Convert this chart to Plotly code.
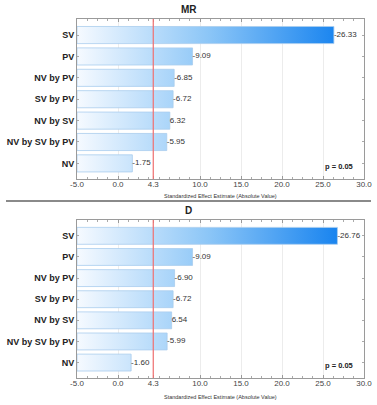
import plotly.graph_objects as go

terms = ["SV", "PV", "NV by PV", "SV by PV", "NV by SV", "NV by SV by PV", "NV"]
effects_mr = [-26.33, -9.09, -6.85, -6.72, 6.32, -5.95, -1.75]
effects_d = [-26.76, -9.09, -6.90, -6.72, 6.54, -5.99, -1.60]
panel_titles = ["MR", "D"]
tick_vals = [-5.0, 0.0, 4.3, 10.0, 15.0, 20.0, 25.0, 30.0]
tick_text = ["-5.0", "0.0", "4.3", "10.0", "15.0", "20.0", "25.0", "30.0"]
critical_t = 4.3
p_label = "p = 0.05"
axis_title = "Standardized Effect Estimate (Absolute Value)"

W, H = 377, 405
X_MIN, X_MAX = -5.0, 30.0
BAR_HALF = 0.4
FONT = "Liberation Sans, Arial, sans-serif"


def py(px):
    return 1 - px / H


panels = [
    dict(effects=effects_mr, top=19, bottom=179, title_y=9, xtitle_y=196),
    dict(effects=effects_d, top=220, bottom=378, title_y=210, xtitle_y=397),
]
x_dom = [77 / W, 364 / W]

fig = go.Figure()
annotations = []
shapes = []

for k, (p, title) in enumerate(zip(panels, panel_titles)):
    sfx = "" if k == 0 else str(k + 1)
    xa, ya = "x" + sfx, "y" + sfx
    xs, ys = [], []
    for i, v in enumerate(p["effects"]):
        end = abs(v)
        xs += [X_MIN, X_MIN, end, end, X_MIN, None]
        ys += [i - BAR_HALF, i + BAR_HALF, i + BAR_HALF, i - BAR_HALF, i - BAR_HALF, None]
    fig.add_trace(go.Scatter(
        x=xs, y=ys, mode="lines", fill="toself",
        line=dict(color="#a9cdee", width=0.8),
        fillgradient=dict(type="horizontal",
                          colorscale=[[0, "#f6faff"], [0.5, "#8cc6f7"], [1, "#1783ef"]],
                          start=X_MIN, stop=27.0),
        xaxis=xa, yaxis=ya, hoverinfo="skip", showlegend=False,
    ))
    fig.add_trace(go.Scatter(
        x=[abs(v) for v in p["effects"]], y=list(range(len(terms))),
        mode="text", text=[f"{v:.2f}" for v in p["effects"]],
        textposition="middle right",
        textfont=dict(family=FONT, size=8, color="#333333"),
        xaxis=xa, yaxis=ya, hoverinfo="skip", showlegend=False,
    ))
    dom_y = [py(p["bottom"]), py(p["top"])]
    common_axis = dict(showline=True, linecolor="#9a9a9a", linewidth=1, mirror="allticks",
                       zeroline=False, automargin=False)
    fig.update_layout(**{
        ("xaxis" + sfx): dict(
            domain=x_dom, anchor=ya, range=[X_MIN, X_MAX],
            tickvals=tick_vals, ticktext=tick_text,
            tickfont=dict(family=FONT, size=8, color="#444444"),
            ticks="inside", ticklen=3, tickcolor="#9a9a9a", ticklabelstandoff=-3,
            minor=dict(ticks="inside", ticklen=2, dtick=1.25, tickcolor="#aaaaaa", showgrid=False),
            showgrid=True, gridcolor="#ececec", gridwidth=1,
            **common_axis),
        ("yaxis" + sfx): dict(
            domain=dom_y, anchor=xa, range=[6.73, -0.75],
            tickvals=list(range(len(terms))), ticktext=terms,
            tickfont=dict(family=FONT, size=9, color="#222222", weight="bold"),
            ticks="inside", ticklen=2, tickcolor="#aaaaaa", showgrid=False,
            **common_axis),
    })
    shapes.append(dict(type="line", xref=xa, yref=ya + " domain", x0=critical_t, x1=critical_t,
                       y0=0, y1=1, line=dict(color="#f07070", width=1.2), layer="above"))
    annotations.append(dict(text=f"<b>{title}</b>", xref="paper", yref="paper", x=0.5,
                            y=py(p["title_y"]), showarrow=False, yanchor="middle",
                            font=dict(family=FONT, size=10, color="#222222")))
    annotations.append(dict(text=axis_title, xref="paper", yref="paper",
                            x=(x_dom[0] + x_dom[1]) / 2, y=py(p["xtitle_y"]), showarrow=False,
                            yanchor="middle", font=dict(family=FONT, size=5.5, color="#333333")))
    annotations.append(dict(text=f"<b>{p_label}</b>", xref=xa + " domain", yref=ya + " domain",
                            x=0.97, y=0.08, xanchor="right", yanchor="middle", showarrow=False,
                            font=dict(family=FONT, size=7.5, color="#222222")))

shapes.append(dict(type="line", xref="paper", yref="paper", x0=6 / W, x1=371 / W,
                   y0=py(201), y1=py(201), line=dict(color="#8a8a8a", width=2)))

fig.update_layout(width=W, height=H, margin=dict(l=0, r=0, t=0, b=0),
                  paper_bgcolor="white", plot_bgcolor="white",
                  shapes=shapes, annotations=annotations, showlegend=False)

fig.write_html("out.html", config={"displayModeBar": False},
               post_script="document.body.style.margin='0';document.body.style.overflow='hidden';")
